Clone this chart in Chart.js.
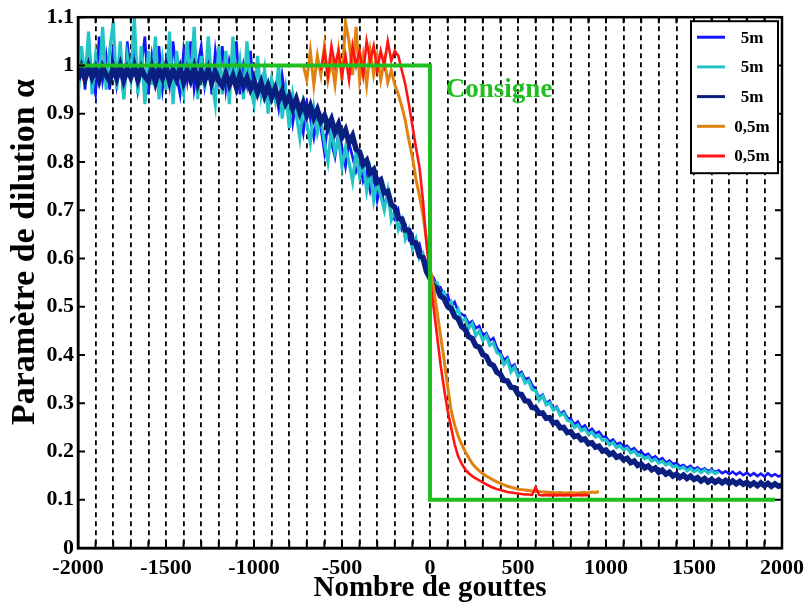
<!DOCTYPE html>
<html>
<head>
<meta charset="utf-8">
<script src="https://cdn.jsdelivr.net/npm/chart.js@4.4.0/dist/chart.umd.min.js"></script>
<style>
body { margin: 0; background: #fff; }
#wrap { width: 811px; height: 606px; }
</style>
</head>
<body>
<div id="wrap"><canvas id="myChart" width="811" height="606"></canvas></div>
<script>
// x positions (nombre de gouttes) for the long 5m runs
const xLong = [
    -2000,-1980,-1960,-1940,-1920,-1900,-1880,-1860,-1840,-1820,
    -1800,-1780,-1760,-1740,-1720,-1700,-1680,-1660,-1640,-1620,
    -1600,-1580,-1560,-1540,-1520,-1500,-1480,-1460,-1440,-1420,
    -1400,-1380,-1360,-1340,-1320,-1300,-1280,-1260,-1240,-1220,
    -1200,-1180,-1160,-1140,-1120,-1100,-1080,-1060,-1040,-1020,
    -1000,-980,-960,-940,-920,-900,-880,-860,-840,-820,
    -800,-780,-760,-740,-720,-700,-680,-660,-640,-620,
    -600,-580,-560,-540,-520,-500,-480,-460,-440,-420,
    -400,-380,-360,-340,-320,-300,-280,-260,-240,-220,
    -200,-180,-160,-140,-120,-100,-80,-60,-40,-20,
    0,20,40,60,80,100,120,140,160,180,
    200,220,240,260,280,300,320,340,360,380,
    400,420,440,460,480,500,520,540,560,580,
    600,620,640,660,680,700,720,740,760,780,
    800,820,840,860,880,900,920,940,960,980,
    1000,1020,1040,1060,1080,1100,1120,1140,1160,1180,
    1200,1220,1240,1260,1280,1300,1320,1340,1360,1380,
    1400,1420,1440,1460,1480,1500,1520,1540,1560,1580,
    1600,1620,1640,1660,1680,1700,1720,1740,1760,1780,
    1800,1820,1840,1860,1880,1900,1920,1940,1960,1980,
    2000
];

// x positions for the short 0,5m runs
const xShort = [
    -720,-700,-680,-660,-640,-620,-600,-580,-560,-540,
    -520,-500,-480,-460,-440,-420,-400,-380,-360,-340,
    -320,-300,-280,-260,-240,-220,-200,-180,-160,-140,
    -120,-100,-80,-60,-40,-20,0,20,40,60,
    80,100,120,140,160,180,200,220,240,260,
    280,300,320,340,360,380,400,420,440,460,
    480,500,520,540,560,580,600,620,640,660,
    680,700,720,740,760,780,800,820,840,860,
    880,900,920,940,960
];

const blue5m = [
    0.96,1.03,0.95,1.05,0.98,0.94,1.06,0.97,1.02,0.95,
    1.04,0.96,1.01,0.93,1.05,0.98,1.03,0.95,1.00,1.06,
    0.94,1.02,0.97,1.04,0.95,1.01,0.96,1.05,0.98,0.94,
    1.03,0.97,1.05,0.95,1.00,1.04,0.96,1.02,0.94,1.03,
    0.97,1.04,0.95,1.01,0.98,1.05,0.94,1.00,0.96,1.03,
    0.94,1.00,0.95,0.99,0.92,0.97,0.95,0.91,0.98,0.93,
    0.94,0.88,0.93,0.90,0.86,0.92,0.89,0.85,0.90,0.87,
    0.82,0.88,0.84,0.81,0.86,0.83,0.79,0.84,0.81,0.78,
    0.80,0.76,0.78,0.74,0.77,0.72,0.75,0.71,0.73,0.69,
    0.68,0.70,0.66,0.67,0.64,0.65,0.62,0.63,0.60,0.595,
    0.57,0.56,0.545,0.54,0.52,0.525,0.50,0.51,0.49,0.485,
    0.48,0.465,0.47,0.455,0.46,0.44,0.445,0.43,0.435,0.415,
    0.405,0.39,0.395,0.375,0.38,0.36,0.365,0.35,0.352,0.338,
    0.328,0.312,0.318,0.30,0.305,0.288,0.293,0.278,0.283,0.27,
    0.268,0.256,0.262,0.249,0.254,0.242,0.247,0.237,0.241,0.231,
    0.23,0.22,0.225,0.215,0.218,0.21,0.212,0.203,0.207,0.198,
    0.2,0.192,0.195,0.186,0.19,0.182,0.186,0.177,0.181,0.174,
    0.176,0.169,0.172,0.166,0.17,0.163,0.167,0.161,0.165,0.159,
    0.163,0.157,0.161,0.155,0.159,0.153,0.158,0.152,0.157,0.151,
    0.156,0.15,0.155,0.149,0.154,0.148,0.155,0.149,0.153,0.148,
    0.152
];

const cyan5m = [
    0.93,1.04,0.97,1.07,0.94,1.02,0.96,1.08,0.95,1.03,
    1.09,0.95,1.05,0.93,1.02,0.97,1.10,0.94,1.04,0.92,
    1.03,0.96,1.06,0.93,1.01,0.95,1.07,0.92,1.03,0.97,
    0.94,1.05,0.96,1.08,0.93,1.02,0.95,1.06,0.97,0.92,
    1.04,0.94,1.03,0.92,1.06,0.96,1.01,0.93,1.05,0.95,
    0.92,1.02,0.94,0.99,0.90,0.97,0.93,1.00,0.89,0.95,
    0.87,0.94,0.90,0.85,0.92,0.88,0.84,0.91,0.86,0.89,
    0.84,0.80,0.87,0.82,0.85,0.79,0.83,0.80,0.76,0.82,
    0.77,0.80,0.74,0.78,0.72,0.76,0.73,0.70,0.74,0.68,
    0.70,0.66,0.68,0.64,0.66,0.62,0.64,0.60,0.61,0.58,
    0.575,0.55,0.55,0.525,0.53,0.50,0.51,0.485,0.495,0.47,
    0.475,0.455,0.465,0.44,0.45,0.43,0.44,0.42,0.425,0.405,
    0.40,0.38,0.39,0.365,0.375,0.355,0.36,0.342,0.347,0.328,
    0.326,0.306,0.315,0.297,0.301,0.286,0.29,0.275,0.279,0.265,
    0.262,0.25,0.255,0.243,0.247,0.236,0.24,0.23,0.233,0.223,
    0.224,0.214,0.219,0.208,0.212,0.203,0.207,0.197,0.201,0.192,
    0.192,0.185,0.189,0.18,0.184,0.176,0.18,0.172,0.176,0.168,
    0.17,0.164,0.168,0.16,0.165,0.158,0.163,0.156,0.162,0.155,
    0.16,0.154,0.158
];

const navy5m = [
    0.97,0.995,0.972,0.998,0.976,0.994,0.97,0.996,0.98,0.968,
    0.996,0.974,0.999,0.97,0.993,0.976,0.998,0.971,0.994,0.977,
    0.968,0.995,0.966,0.992,0.974,0.997,0.968,0.99,0.972,0.994,
    0.966,0.99,0.97,0.995,0.964,0.988,0.969,0.992,0.965,0.986,
    0.968,0.958,0.982,0.96,0.978,0.955,0.979,0.957,0.974,0.952,
    0.968,0.944,0.964,0.938,0.958,0.934,0.952,0.928,0.946,0.922,
    0.936,0.912,0.93,0.904,0.922,0.898,0.916,0.892,0.908,0.884,
    0.896,0.872,0.888,0.862,0.878,0.852,0.866,0.84,0.854,0.826,
    0.821,0.795,0.803,0.777,0.784,0.758,0.763,0.736,0.739,0.712,
    0.706,0.683,0.682,0.659,0.658,0.633,0.632,0.605,0.602,0.573,
    0.559,0.543,0.538,0.522,0.517,0.501,0.496,0.48,0.475,0.459,
    0.453,0.438,0.434,0.419,0.416,0.401,0.397,0.382,0.378,0.364,
    0.36,0.347,0.346,0.333,0.332,0.319,0.318,0.305,0.304,0.291,
    0.29,0.279,0.28,0.269,0.27,0.259,0.26,0.249,0.25,0.239,
    0.241,0.231,0.233,0.224,0.226,0.216,0.218,0.209,0.211,0.201,
    0.203,0.194,0.197,0.188,0.191,0.183,0.186,0.177,0.18,0.171,
    0.174,0.166,0.17,0.162,0.166,0.157,0.161,0.153,0.157,0.149,
    0.153,0.146,0.151,0.144,0.149,0.142,0.146,0.139,0.144,0.137,
    0.142,0.136,0.141,0.135,0.14,0.134,0.139,0.133,0.138,0.132,
    0.136,0.13,0.135,0.129,0.135,0.129,0.134,0.128,0.133,0.128,
    0.13
];

const orange05m = [
    1.00,0.97,1.03,0.96,1.02,0.98,1.04,0.97,1.01,0.96,
    1.03,0.97,1.09,1.05,0.98,1.08,0.97,1.02,0.96,1.03,
    0.98,1.02,0.97,1.01,0.965,0.99,0.96,0.94,0.915,0.885,
    0.845,0.81,0.765,0.73,0.69,0.64,0.58,0.54,0.49,0.44,
    0.39,0.335,0.285,0.255,0.232,0.215,0.2,0.187,0.175,0.167,
    0.16,0.154,0.149,0.145,0.141,0.137,0.134,0.131,0.128,0.126,
    0.124,0.122,0.121,0.12,0.119,0.118,0.117,0.117,0.116,0.116,
    0.115,0.115,0.114,0.115,0.114,0.114,0.115,0.114,0.114,0.115,
    0.115,0.114,0.116,0.115,0.117
];

const red05m = [
    null,null,null,null,null,0.99,1.03,0.98,1.04,1.00,
    1.03,0.98,1.02,0.97,1.04,1.00,1.03,0.98,1.05,1.01,
    1.04,0.99,1.03,1.00,1.05,1.01,1.03,1.02,0.99,0.96,
    0.92,0.875,0.83,0.79,0.72,0.63,0.56,0.50,0.44,0.38,
    0.33,0.285,0.25,0.215,0.19,0.175,0.163,0.155,0.149,0.144,
    0.14,0.136,0.132,0.128,0.125,0.122,0.12,0.118,0.116,0.115,
    0.114,0.113,0.112,0.111,0.111,0.11,0.126,0.11,0.109,0.11,
    0.109,0.11,0.109,0.11,0.109,0.11,0.109,0.109,0.11,0.109,
    0.11,0.109,null,null,null
];

// set point (consigne)
const consigneX = [-2000, 0, 0, 1960];
const consigneY = [1, 1, 0.1, 0.1];
const consigneText = 'Consigne';
const consigneLabelAt = [90, 0.935];

const legendLabels = ['5m', '5m', '5m', '0,5m', '0,5m'];
const seriesColors = ['#1414ff', '#22c4c8', '#0b1f80', '#e08210', '#ff1414'];
const consigneColor = '#1fbf1f';

const xTitle = 'Nombre de gouttes';
const yTitle = 'Paramètre de dilution α';

const serif = '"Liberation Serif", "Times New Roman", serif';

function pts(xs, ys) {
    return ys.map((y, i) => ({ x: xs[i], y: y }));
}

function lineSet(label, xs, ys, color, width, order) {
    return {
        label: label,
        data: pts(xs, ys),
        borderColor: color,
        backgroundColor: color,
        borderWidth: width,
        pointRadius: 0,
        tension: 0,
        fill: false,
        order: order
    };
}

const decorations = {
    id: 'decorations',
    afterDatasetsDraw(chart) {
        const { ctx, scales: { x, y } } = chart;
        ctx.save();
        ctx.font = 'bold 27px ' + serif;
        ctx.fillStyle = consigneColor;
        ctx.textAlign = 'left';
        ctx.textBaseline = 'alphabetic';
        ctx.fillText(consigneText, x.getPixelForValue(consigneLabelAt[0]), y.getPixelForValue(consigneLabelAt[1]));
        ctx.restore();
    },
    afterDraw(chart) {
        const { ctx, chartArea: a, scales: { x, y } } = chart;
        ctx.save();
        // inward tick marks
        ctx.strokeStyle = '#000';
        ctx.lineWidth = 2;
        ctx.beginPath();
        x.ticks.forEach(t => {
            const px = x.getPixelForValue(t.value);
            ctx.moveTo(px, a.bottom); ctx.lineTo(px, a.bottom - 7);
            ctx.moveTo(px, a.top); ctx.lineTo(px, a.top + 6);
        });
        y.ticks.forEach(t => {
            const py = y.getPixelForValue(t.value);
            ctx.moveTo(a.left, py); ctx.lineTo(a.left + 7, py);
            ctx.moveTo(a.right, py); ctx.lineTo(a.right - 7, py);
        });
        ctx.stroke();

        // legend box
        const bw = 87, bh = 152;
        const bx = a.right - 4 - bw, by = a.top + 4;
        ctx.fillStyle = '#fff';
        ctx.fillRect(bx, by, bw, bh);
        ctx.lineWidth = 2;
        ctx.strokeRect(bx, by, bw, bh);
        ctx.font = 'bold 17px ' + serif;
        ctx.textAlign = 'center';
        ctx.textBaseline = 'middle';
        legendLabels.forEach((lab, i) => {
            const ly = by + 16 + i * 29.7;
            ctx.strokeStyle = seriesColors[i];
            ctx.lineWidth = 3;
            ctx.beginPath();
            ctx.moveTo(bx + 6, ly);
            ctx.lineTo(bx + 34, ly);
            ctx.stroke();
            ctx.fillStyle = '#000';
            ctx.fillText(lab, bx + 61, ly + 1);
        });

        // frame
        ctx.strokeStyle = '#000';
        ctx.lineWidth = 2.5;
        ctx.strokeRect(a.left, a.top, a.right - a.left, a.bottom - a.top);

        // y title
        ctx.translate(25, 252);
        ctx.rotate(-Math.PI / 2);
        ctx.font = 'bold 34px ' + serif;
        ctx.fillStyle = '#000';
        ctx.textAlign = 'center';
        ctx.textBaseline = 'middle';
        ctx.fillText(yTitle, 0, 0);
        ctx.restore();
    }
};

const ctx = document.getElementById('myChart').getContext('2d');
const myChart = new Chart(ctx, {
    type: 'line',
    data: {
        datasets: [
            lineSet('Consigne', consigneX, consigneY, consigneColor, 4, 0),
            lineSet(legendLabels[4], xShort, red05m, seriesColors[4], 2.6, 1),
            lineSet(legendLabels[3], xShort, orange05m, seriesColors[3], 3, 2),
            lineSet(legendLabels[2], xLong, navy5m, seriesColors[2], 5.5, 3),
            lineSet(legendLabels[1], xLong, cyan5m, seriesColors[1], 3.2, 4),
            lineSet(legendLabels[0], xLong, blue5m, seriesColors[0], 2.6, 5)
        ]
    },
    options: {
        responsive: false,
        animation: false,
        events: [],
        layout: { padding: { left: 0, right: 26, top: 14, bottom: 0 } },
        plugins: {
            legend: { display: false },
            tooltip: { enabled: false }
        },
        scales: {
            x: {
                type: 'linear',
                min: -2000,
                max: 2000,
                afterFit(scale) { scale.height = 58; },
                ticks: {
                    stepSize: 100,
                    autoSkip: false,
                    maxRotation: 0,
                    padding: 7,
                    color: '#000',
                    font: { family: serif, size: 22, weight: 'bold' },
                    callback: v => (Math.round(v) % 500 === 0 ? String(Math.round(v)) : '')
                },
                grid: { color: '#000', lineWidth: 1.8, drawTicks: false },
                border: { display: true, color: '#000', width: 2.5, dash: [5, 4] },
                title: {
                    display: true,
                    text: xTitle,
                    color: '#000',
                    padding: { top: 0, bottom: 0 },
                    font: { family: serif, size: 29, weight: 'bold' }
                }
            },
            y: {
                min: 0,
                max: 1.1,
                afterFit(scale) { scale.width = 78; },
                ticks: {
                    stepSize: 0.1,
                    padding: 4,
                    color: '#000',
                    font: { family: serif, size: 22, weight: 'bold' },
                    callback: v => String(Number(v.toFixed(1)))
                },
                grid: { display: false, drawTicks: false },
                border: { display: true, color: '#000', width: 2.5 }
            }
        }
    },
    plugins: [decorations]
});
</script>
</body>
</html>
